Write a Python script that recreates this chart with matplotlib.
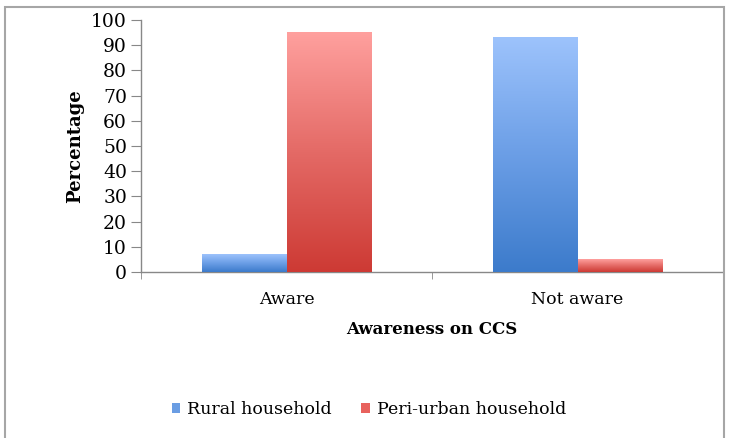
import matplotlib
matplotlib.use("Agg")
import matplotlib.pyplot as plt
import numpy as np
from matplotlib.colors import LinearSegmentedColormap
from matplotlib.patches import Rectangle, Patch

categories = ["Aware", "Not aware"]
rural = [7, 93]
peri_urban = [95, 5]
series_names = ["Rural household", "Peri-urban household"]
yticks = [0, 10, 20, 30, 40, 50, 60, 70, 80, 90, 100]

plt.rcParams['font.family'] = ['DejaVu Serif']

W, H = 730, 438
fig = plt.figure(figsize=(W/100, H/100), dpi=100)
ax = fig.add_axes([141/W, 1-272/H, (723-141)/W, (272-20)/H])

x = np.arange(len(categories))
bw = 0.289
b1 = ax.bar(x - bw/2, rural, bw, color='#6a9de3', zorder=2)
b2 = ax.bar(x + bw/2, peri_urban, bw, color='#e8625d', zorder=2)

cm_blue = LinearSegmentedColormap.from_list('b', ['#3c7bcb', '#6b9ee6', '#9dc3fc'])
cm_red = LinearSegmentedColormap.from_list('r', ['#cd3a34', '#e46a66', '#ffa09e'])
grad = np.linspace(0, 1, 256).reshape(-1, 1)
for bars, cm in ((b1, cm_blue), (b2, cm_red)):
    for p in bars:
        x0, y0 = p.get_x(), p.get_y()
        w, h = p.get_width(), p.get_height()
        ax.imshow(grad, extent=[x0, x0 + w, y0, y0 + h], origin='lower',
                  aspect='auto', cmap=cm, zorder=3, interpolation='bilinear')

ax.set_xlim(-0.5, len(categories) - 0.5)
ax.set_ylim(0, 100)
ax.set_yticks(yticks)
ax.set_yticklabels([str(v) for v in yticks], fontsize=13.5)
ax.set_xticks(x)
ax.set_xticklabels(categories, fontsize=12.5)
ax.set_xticks(np.arange(-0.5, len(categories)), minor=True)
ax.tick_params(axis='x', which='major', length=0, pad=14)
ax.tick_params(axis='x', which='minor', length=5, color='#888888', direction='out')
ax.tick_params(axis='y', length=7, color='#888888', pad=3)
for s in ('top', 'right'):
    ax.spines[s].set_visible(False)
for s in ('left', 'bottom'):
    ax.spines[s].set_color('#888888')
    ax.spines[s].set_linewidth(1)

ax.set_ylabel('Percentage', fontsize=13, fontweight='bold', labelpad=5)
ax.set_xlabel('Awareness on CCS', fontsize=12, fontweight='bold', labelpad=9)

handles = [Patch(facecolor='#6a9de3', edgecolor='none'),
           Patch(facecolor='#e8625d', edgecolor='none')]
fig.legend(handles, series_names, loc='center', bbox_to_anchor=(369/W, 1-410/H),
           ncol=2, frameon=False, fontsize=12.5, handlelength=0.5, handleheight=0.5,
           handletextpad=0.4, columnspacing=1.7)

fig.patches.append(Rectangle((5/W, -0.02), (724-5)/W, (438-7)/H + 0.02,
                             transform=fig.transFigure, fill=False,
                             edgecolor='#a6a6a6', linewidth=1.5))

fig.savefig('out.png', dpi=100)
